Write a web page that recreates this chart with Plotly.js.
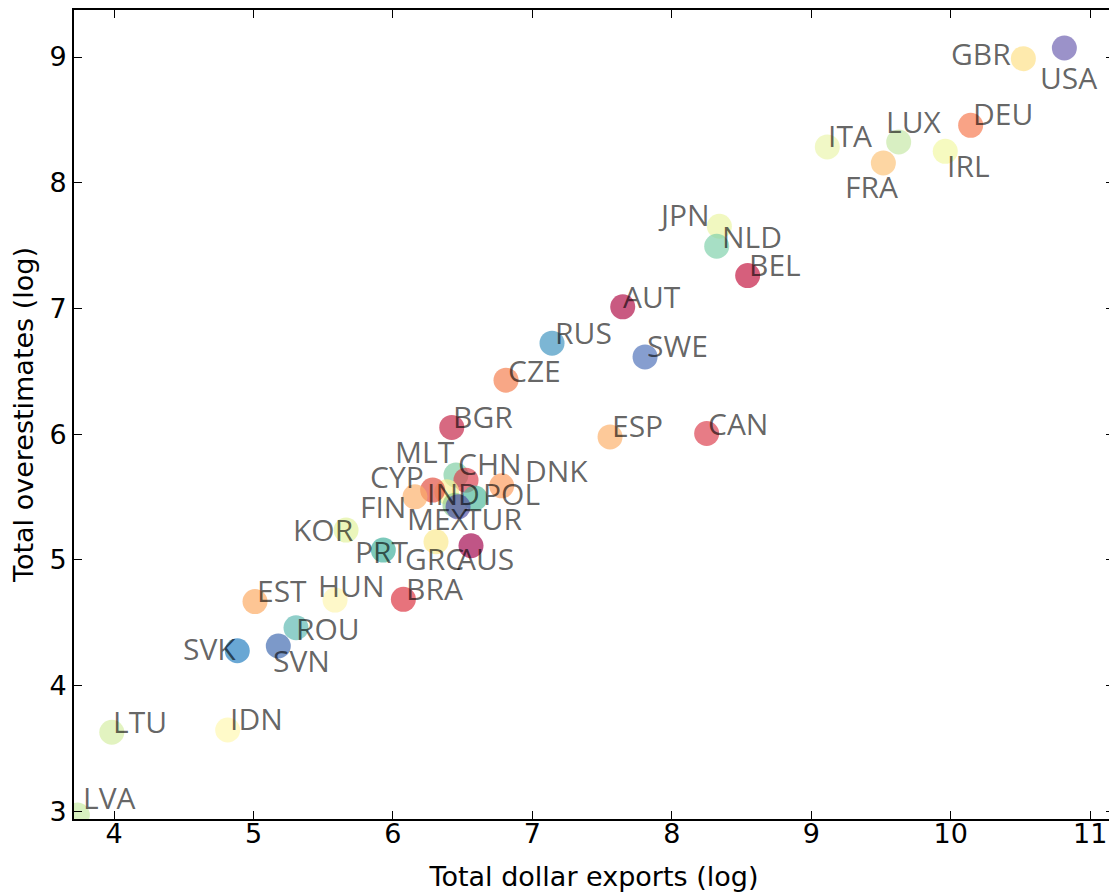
<!DOCTYPE html>
<html>
<head>
<meta charset="utf-8">
<script src="https://cdn.plot.ly/plotly-3.0.1.min.js"></script>
<style>
  html, body { margin: 0; padding: 0; overflow: hidden; background: #fff; }
  #chart { width: 1116px; height: 895px; }
</style>
</head>
<body>
<div id="chart"></div>
<script>
// ---- data ----
const countries = ["USA","GBR","DEU","IRL","LUX","ITA","FRA","JPN","NLD","BEL","AUT","SWE","ESP","CAN","RUS","CZE","BGR","MLT","CHN","DNK","CYP","IND","POL","FIN","TUR","MEX","KOR","PRT","GRC","AUS","HUN","BRA","EST","ROU","SVK","SVN","LTU","IDN","LVA"];
const exportsLog = [10.815,10.521,10.143,9.961,9.627,9.115,9.517,8.341,8.322,8.544,7.648,7.808,7.557,8.250,7.141,6.811,6.422,6.452,6.524,6.780,6.386,6.285,6.589,6.158,6.445,6.467,5.664,5.931,6.309,6.560,5.585,6.075,5.011,5.305,4.884,5.178,3.984,4.815,3.737];
const overestLog = [9.072,8.987,8.457,8.250,8.324,8.285,8.157,7.654,7.495,7.262,7.013,6.615,5.979,6.006,6.724,6.430,6.054,5.675,5.635,5.590,5.542,5.556,5.492,5.502,5.436,5.423,5.238,5.079,5.145,5.113,4.681,4.687,4.669,4.461,4.278,4.316,3.630,3.648,2.972];
const xTicks = [4,5,6,7,8,9,10,11];
const yTicks = [3,4,5,6,7,8,9];

// ---- styles ----
const pointColors = ["#6c5faf","#fee086","#f6774c","#f2f8a2","#c6e7a5","#eaf5ab","#fcc377","#eaf4a2","#7ed0a9","#c2133e","#b00c45","#4c70b8","#fcb069","#db3e4c","#3e94bf","#f57e4c","#c42245","#7ecda2","#db3e4c","#fc9b5b","#fbf194","#e24c3e","#4cb89b","#fcb069","#8dcd8d","#4f4ea5","#e2f19b","#3eb09b","#fbe98d","#a2054c","#fef5b0","#db303e","#fca962","#5bb8b1","#227ebf","#3e69b0","#d4eea2","#fff8b0","#c6eaa2"];
// label offsets in pixels: text left edge and cap-centre relative to the point (screen coords)
const labelDx = [-24,-72.6,2,1.4,-12.7,1,-38.3,-61,5,1.6,0.6,1.7,1.7,1.6,3,2,1.6,-61,-7.7,23.3,-76.7,-6,8.3,-55,10,-51.3,-52.7,-28.3,-31,-14.3,-16.7,2.7,2,0,-54,-5,1.6,2.3,6];
const labelDy = [29.3,-5,-12.2,13.7,-20.4,-11.4,23.3,-12,-9.3,-10.6,-10.7,-11.4,-11,-10,-10.5,-10,-10.6,-24,-16.7,-15.7,-15.7,3.3,-4.7,10,13.3,11.6,-0.8,1.3,16.3,12.3,-15,-11.3,-11,0.3,-2.4,15,-11,-11.3,-17.5];

const trace = {
  type: 'scatter',
  mode: 'markers',
  x: exportsLog,
  y: overestLog,
  text: countries,
  hoverinfo: 'text',
  cliponaxis: true,
  marker: { size: 25, color: pointColors, opacity: 0.68, line: { width: 0 } }
};

const annotations = countries.map((c, i) => ({
  x: exportsLog[i], y: overestLog[i], xref: 'x', yref: 'y',
  text: c, showarrow: false,
  xanchor: 'left', yanchor: 'middle',
  xshift: labelDx[i] - 2, yshift: -labelDy[i],
  font: { family: 'Open Sans, Noto Sans, sans-serif', size: 30, color: 'rgba(0,0,0,0.62)' }
}));

const axisCommon = {
  showgrid: false, zeroline: false,
  showline: true, linecolor: '#000', linewidth: 2,
  mirror: 'allticks', ticks: 'inside', ticklen: 8, tickwidth: 1, tickcolor: '#000',
  tickfont: { family: 'DejaVu Sans, sans-serif', size: 27, color: '#000' },
  automargin: false
};

const layout = {
  width: 1116, height: 895,
  margin: { l: 74, r: 2, t: 10, b: 76 },
  paper_bgcolor: '#fff', plot_bgcolor: '#fff',
  showlegend: false,
  xaxis: Object.assign({}, axisCommon, {
    range: [3.713, 11.171], tickvals: xTicks, ticktext: xTicks.map(String),
    ticklabelstandoff: -10,
    title: { text: 'Total dollar exports (log)', standoff: 19, font: { family: 'DejaVu Sans, sans-serif', size: 27, color: '#000' } }
  }),
  yaxis: Object.assign({}, axisCommon, {
    range: [2.94, 9.374], tickvals: yTicks, ticktext: yTicks.map(String),
    title: { text: 'Total overestimates (log)', standoff: 8, font: { family: 'DejaVu Sans, sans-serif', size: 27, color: '#000' } }
  }),
  annotations: annotations
};

Plotly.newPlot('chart', [trace], layout, { displayModeBar: false, staticPlot: true });
</script>
</body>
</html>
